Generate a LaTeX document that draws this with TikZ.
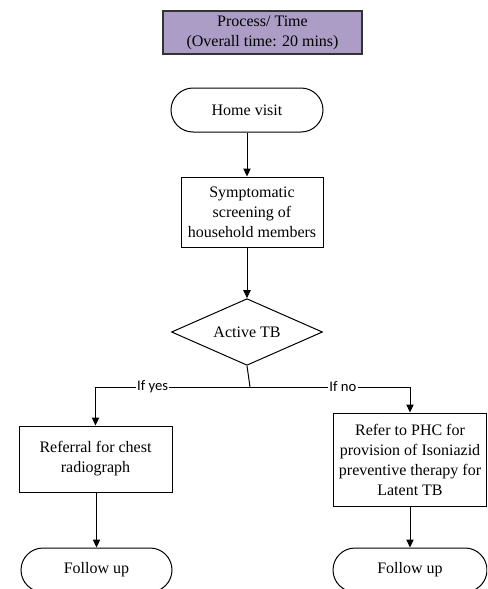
\documentclass[tikz,border=0pt]{standalone}
\usepackage{fontspec}
\setmainfont{Liberation Serif}
\newfontfamily\lblfont{Carlito}
\usetikzlibrary{shapes.geometric,arrows.meta}

\definecolor{titlepurple}{RGB}{171,157,198}

\begin{document}
\begin{tikzpicture}[x=0.75pt, y=-0.75pt, font=\fontsize{12}{15}\selectfont]

  \tikzstyle{proc}  = [draw, line width=0.75pt, align=center, inner sep=2pt]
  \tikzstyle{term}  = [proc, rounded corners=16.5pt, minimum height=33pt]
  \tikzstyle{dec}   = [draw, line width=0.75pt, diamond, aspect=3, inner sep=0pt]
  \tikzstyle{arr}   = [line width=0.75pt, -{Triangle[length=6pt,width=5.5pt]}]
  \tikzstyle{lbl}   = [fill=white, inner sep=1pt, font=\lblfont\fontsize{11}{13}\selectfont]

  \useasboundingbox (0,0) rectangle (487,589);
  \clip (0,0) rectangle (487,589);

  % ---- HEADER ----
  \node[proc, fill=titlepurple, draw=black!80, line width=1.1pt,
        minimum width=149.25pt, minimum height=32.25pt] (title) at (262.5,32.5)
        {Process/ Time\\(Overall time: 20 mins)};

  % ---- MAIN COLUMN ----
  \node[term, minimum width=114pt] (home) at (247,110) {Home visit};
  \node[proc, minimum width=106.5pt, minimum height=52.5pt] (screen) at (252,212)
        {Symptomatic\\screening of\\household members};
  \node[dec, minimum width=113.25pt, minimum height=50pt] (active) at (247,332) {Active TB};
  \coordinate (split) at (250,387);

  % ---- BRANCHES ----
  \node[proc, minimum width=114.75pt, minimum height=49.5pt] (chest) at (95.5,459)
        {Referral for chest\\radiograph};
  \node[proc, minimum width=114.75pt, minimum height=69.75pt] (phc) at (410,459.5)
        {Refer to PHC for\\provision of Isoniazid\\preventive therapy for\\Latent TB};
  \node[term, minimum width=113.25pt] (followA) at (96.5,570) {Follow up};
  \node[term, minimum width=115.5pt] (followB) at (410,570) {Follow up};

  % ---- CONNECTORS ----
  \draw[arr] (home.south) -- (home.south |- screen.north);
  \draw[arr] (screen.south -| home.south) -- (active.north);
  \draw[line width=0.75pt] (active.south) -- (split);
  \draw[arr] (split) -| node[lbl, pos=0.315] {If yes} (chest.north);
  \draw[arr] (split) -| node[lbl, pos=0.29] {If no} (phc.north);
  \draw[arr] (chest.south -| followA.north) -- (followA.north);
  \draw[arr] (phc.south) -- (followB.north);

\end{tikzpicture}
\end{document}
